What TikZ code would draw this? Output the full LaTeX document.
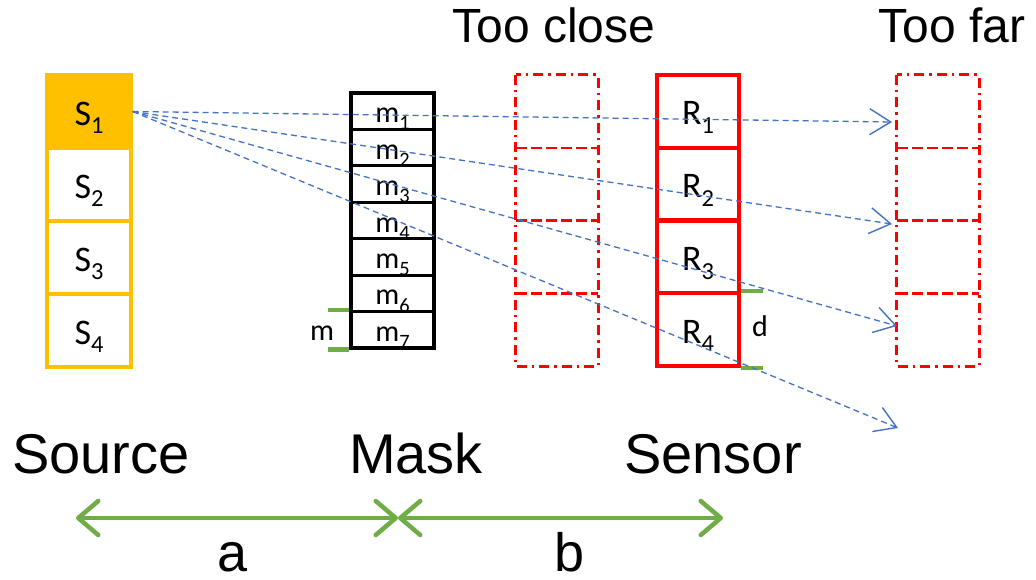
\documentclass[tikz,border=0pt]{standalone}
\usepackage{fontspec}
\setmainfont{Liberation Sans}
\newfontfamily\calibrifont{Carlito}
\usetikzlibrary{arrows.meta}
\definecolor{gold}{HTML}{FFC000}
\definecolor{leaf}{HTML}{70AD47}
\definecolor{ray}{HTML}{4472C4}
\newcommand\lsub[1]{\raisebox{-0.24em}{\scalebox{0.68}{#1}}}
\begin{document}
\begin{tikzpicture}[x=1pt,y=-1pt,
  scell/.style={draw=gold,line width=3.3pt,minimum width=84pt,minimum height=73pt,inner sep=0pt,
    font=\calibrifont\fontsize{36}{36}\selectfont,text height=27pt,text depth=0pt},
  mcell/.style={draw=black,line width=3.2pt,minimum width=83pt,minimum height=36.43pt,inner sep=0pt,
    font=\calibrifont\fontsize{30}{30}\selectfont,text height=23pt,text depth=0pt},
  rcell/.style={draw=red,line width=4pt,minimum width=82pt,minimum height=72.75pt,inner sep=0pt,
    font=\calibrifont\fontsize{36}{36}\selectfont,text height=27pt,text depth=0pt},
  gcell/.style={minimum width=82pt,minimum height=72.75pt,inner sep=0pt},
  dashdotbox/.style={draw=red,line width=2.8pt,dash pattern=on 10pt off 5pt on 2.5pt off 5pt},
  dashline/.style={draw=red,line width=2.8pt,dash pattern=on 11pt off 4pt},
  ray/.style={draw=ray,line width=1.3pt,dash pattern=on 6pt off 4pt,
    -{Straight Barb[length=21pt,width=26pt,line width=1.4pt]}},
  gtick/.style={draw=leaf,line width=4.5pt},
  dim/.style={draw=leaf,line width=4.5pt,
    {Straight Barb[length=20pt,width=34pt,round]}-{Straight Barb[length=20pt,width=34pt,round]}},
  big/.style={font=\fontsize{48}{48}\selectfont,anchor=base,inner sep=0pt},
  bigger/.style={font=\fontsize{56}{56}\selectfont,anchor=base,inner sep=0pt},
  small/.style={font=\calibrifont\fontsize{30}{30}\selectfont,anchor=base,inner sep=0pt}]
\useasboundingbox (0,0) rectangle (1036,579);
% source
\node[scell,fill=gold] (S1) at (89,111.5) {S\lsub{1}};
\node[scell] (S2) at (89,184.5) {S\lsub{2}};
\node[scell] (S3) at (89,257.5) {S\lsub{3}};
\node[scell] (S4) at (89,330.5) {S\lsub{4}};
% mask
\foreach \i in {1,...,7}{
  \node[mcell] (m\i) at (392.5,{93+18.215+36.43*(\i-1)}) {m\lsub{\i}};
}
% too close / too far
\foreach \i in {1,...,4}{
  \node[gcell] (tc\i) at (557,{75+36.375+72.75*(\i-1)}) {};
  \node[gcell] (tf\i) at (938,{75+36.375+72.75*(\i-1)}) {};
}
\foreach \i in {1,2,3}{
  \draw[dashline] (tc\i.south west) -- (tc\i.south east);
  \draw[dashline] (tf\i.south west) -- (tf\i.south east);
}
\draw[dashdotbox] (tc1.north west) rectangle (tc4.south east);
\draw[dashdotbox] (tf1.north west) rectangle (tf4.south east);
% sensor
\node[rcell] (R1) at (698,111.4) {R\lsub{1}};
\node[rcell] (R2) at (698,184.1) {R\lsub{2}};
\node[rcell] (R3) at (698,256.9) {R\lsub{3}};
\node[rcell] (R4) at (698,329.6) {R\lsub{4}};
% ticks
\draw[gtick] (m7.north west) -- ++(-21,0);
\draw[gtick] (m7.south west) -- ++(-21,0);
\draw[gtick] (R4.north east) -- ++(22,0);
\draw[gtick] (R4.south east) -- ++(22,0);
\node[small] (mlab) at (322,340) {m};
\node[small] (dlab) at (760,336) {d};
% rays
\coordinate (t1) at (892,122);
\coordinate (t2) at (892,224);
\coordinate (t3) at (897,326);
\coordinate (t4) at (898,428);
\foreach \i in {1,...,4}{
  \draw[ray] (S1.east) -- (t\i);
}
% labels
\node[big] (close) at (554,42) {Too close};
\node[big] (far) at (952,42) {Too far};
\node[bigger] (src) at (101,473) {Source};
\node[bigger] (msk) at (416,473) {Mask};
\node[bigger] (sen) at (713,473) {Sensor};
% dimensions
\coordinate (a0) at (76,518);
\coordinate (a1) at (398,518);
\coordinate (a2) at (723,518);
\draw[dim] (a0) -- (a1);
\draw[dim] (a1) -- (a2);
\node[font=\fontsize{54}{54}\selectfont,anchor=base,inner sep=0pt] (alab) at (233,571) {a};
\node[font=\fontsize{54}{54}\selectfont,anchor=base,inner sep=0pt] (blab) at (570,571) {b};
\end{tikzpicture}
\end{document}
